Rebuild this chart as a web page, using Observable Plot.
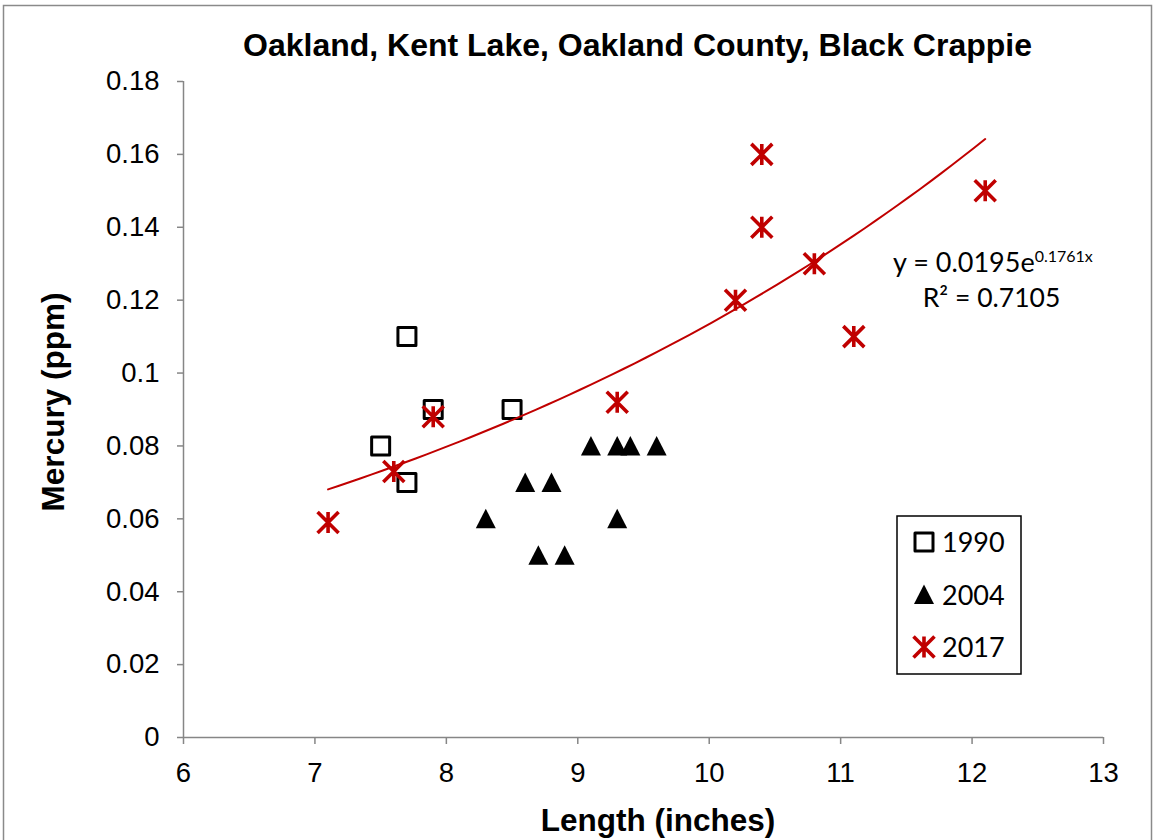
<!DOCTYPE html>
<html>
<head>
<meta charset="utf-8">
<script src="https://cdn.jsdelivr.net/npm/d3@7"></script>
<script src="https://cdn.jsdelivr.net/npm/@observablehq/plot@0.6"></script>
<style>
  html, body { margin: 0; padding: 0; background: #fff; }
  #chart { position: relative; width: 1156px; height: 840px; overflow: hidden; }
</style>
</head>
<body>
<div id="chart"></div>
<script>
// ---- Data ----
const titleText = "Oakland, Kent Lake, Oakland County, Black Crappie";
const xTitle = "Length (inches)";
const yTitle = "Mercury (ppm)";
const seriesNames = ["1990", "2004", "2017"];

const len1990 = [7.5, 7.7, 7.7, 7.9, 8.5];
const hg1990  = [0.08, 0.11, 0.07, 0.09, 0.09];

const len2004 = [8.3, 8.6, 8.8, 8.7, 8.9, 9.1, 9.3, 9.4, 9.6, 9.3];
const hg2004  = [0.06, 0.07, 0.07, 0.05, 0.05, 0.08, 0.08, 0.08, 0.08, 0.06];

const len2017 = [7.1, 7.6, 7.9, 9.3, 10.2, 10.4, 10.4, 10.8, 11.1, 12.1];
const hg2017  = [0.059, 0.073, 0.088, 0.092, 0.12, 0.16, 0.14, 0.13, 0.11, 0.15];

// Exponential trendline of the 2017 series, as printed on the chart
const trendA = 0.0195;
const trendB = 0.1761;
const trendR2 = "0.7105";

const xTicks = [6, 7, 8, 9, 10, 11, 12, 13];
const yTicks = [0, 0.02, 0.04, 0.06, 0.08, 0.1, 0.12, 0.14, 0.16, 0.18];

// ---- build tables ----
const zip = (xs, ys) => xs.map((x, i) => ({len: x, hg: ys[i]}));
const d1990 = zip(len1990, hg1990);
const d2004 = zip(len2004, hg2004);
const d2017 = zip(len2017, hg2017);
const tMin = d3.min(len2017), tMax = d3.max(len2017);
const trend = d3.range(0, 61).map(i => {
  const x = tMin + (tMax - tMin) * i / 60;
  return {len: x, hg: trendA * Math.exp(trendB * x)};
});

// ---- custom marker symbols (r = half size) ----
const rad = size => Math.sqrt(size / Math.PI);
const squareSym = {draw(c, s) { const r = rad(s); c.moveTo(-r, -r); c.lineTo(r, -r); c.lineTo(r, r); c.lineTo(-r, r); c.closePath(); }};
const triSym = {draw(c, s) { const r = rad(s); c.moveTo(0, -r); c.lineTo(r, r * 0.95); c.lineTo(-r, r * 0.95); c.closePath(); }};
const starSym = {draw(c, s) { const r = rad(s); c.moveTo(0, -r); c.lineTo(0, r); c.moveTo(-r, -r); c.lineTo(r, r); c.moveTo(-r, r); c.lineTo(r, -r); }};

const RED = "#C00000";
const GRAY = "#868686";
const FONT = "'Liberation Sans', Arial, sans-serif";
const CAL = "Lato, 'Open Sans', sans-serif";

const SQ = {r: 9, sw: 3};
const TR = {r: 10};
const ST = {r: 10.5, sw: 3.6};

const chart = Plot.plot({
  width: 1156,
  height: 840,
  marginLeft: 183,
  marginRight: 53,
  marginTop: 81,
  marginBottom: 103,
  style: {fontFamily: FONT, color: "#000", background: "#fff"},
  x: {domain: [6, 13], label: null},
  y: {domain: [0, 0.18], label: null},
  marks: [
    Plot.axisY({ticks: yTicks, tickSize: 6, tickPadding: 18, tickFormat: d => String(d),
      fontSize: 27.5, stroke: GRAY, strokeWidth: 1.5, fill: "#000"}),
    Plot.axisX({ticks: xTicks, tickSize: 7, tickPadding: 18, tickFormat: d => String(d),
      fontSize: 27.5, stroke: GRAY, strokeWidth: 1.5, fill: "#000"}),
    Plot.ruleX([6], {stroke: GRAY, strokeWidth: 1.5}),
    Plot.ruleY([0], {stroke: GRAY, strokeWidth: 1.5}),
    Plot.dot(d1990, {x: "len", y: "hg", symbol: squareSym, r: SQ.r, fill: "none", stroke: "#000", strokeWidth: SQ.sw, strokeLinejoin: "round"}),
    Plot.dot(d2004, {x: "len", y: "hg", symbol: triSym, r: TR.r, fill: "#000", stroke: "none"}),
    Plot.dot(d2017, {x: "len", y: "hg", symbol: starSym, r: ST.r, fill: "none", stroke: RED, strokeWidth: ST.sw}),
    Plot.line(trend, {x: "len", y: "hg", stroke: RED, strokeWidth: 2, curve: "linear"})
  ]
});

document.getElementById("chart").appendChild(chart);

// ---- annotations: title, axis titles, trendline label, legend ----
const svg = d3.select(chart);
svg.append("rect").attr("x", 3.5).attr("y", 5.5).attr("width", 1148).attr("height", 860)
  .attr("fill", "none").attr("stroke", "#8a8a8a").attr("stroke-width", 1.5);

svg.append("text").attr("x", 637.5).attr("y", 56).attr("text-anchor", "middle")
  .attr("font-family", FONT).attr("font-weight", "bold").attr("font-size", 32).attr("fill", "#000")
  .text(titleText);

svg.append("text").attr("x", 658).attr("y", 831).attr("text-anchor", "middle")
  .attr("font-family", FONT).attr("font-weight", "bold").attr("font-size", 31.5).attr("fill", "#000")
  .text(xTitle);

svg.append("text").attr("transform", "translate(64,402) rotate(-90)").attr("text-anchor", "middle")
  .attr("font-family", FONT).attr("font-weight", "bold").attr("font-size", 31.5).attr("fill", "#000")
  .text(yTitle);

// trendline equation
const eq = svg.append("text").attr("x", 893).attr("y", 272).attr("text-anchor", "start")
  .attr("font-family", CAL).attr("font-size", 27).attr("fill", "#000");
eq.append("tspan").text(`y = ${trendA}e`);
eq.append("tspan").attr("font-size", 16).attr("dy", -10).text(`${trendB}x`);
svg.append("text").attr("x", 991.5).attr("y", 307).attr("text-anchor", "middle")
  .attr("font-family", CAL).attr("font-size", 26.5).attr("fill", "#000")
  .text(`R² = ${trendR2}`);

// legend
const lg = svg.append("g").attr("text-anchor", "start");
lg.append("rect").attr("x", 897).attr("y", 516).attr("width", 124).attr("height", 158)
  .attr("fill", "#fff").attr("stroke", "#000").attr("stroke-width", 1.5);
const legendItems = [
  {name: seriesNames[0], sym: squareSym, r: SQ.r, fill: "none", stroke: "#000", sw: SQ.sw},
  {name: seriesNames[1], sym: triSym, r: TR.r, fill: "#000", stroke: "none", sw: 0},
  {name: seriesNames[2], sym: starSym, r: ST.r, fill: "none", stroke: RED, sw: ST.sw}
];
legendItems.forEach((it, i) => {
  const cy = 542 + i * 52.5;
  lg.append("path").attr("transform", `translate(924,${cy})`)
    .attr("d", d3.symbol(it.sym, Math.PI * it.r * it.r)())
    .attr("fill", it.fill).attr("stroke", it.stroke).attr("stroke-width", it.sw).attr("stroke-linejoin", "round");
  lg.append("text").attr("x", 942).attr("y", cy + 10).attr("text-anchor", "start")
    .attr("font-family", CAL).attr("font-size", 27).attr("fill", "#000").text(it.name);
});
</script>
</body>
</html>
